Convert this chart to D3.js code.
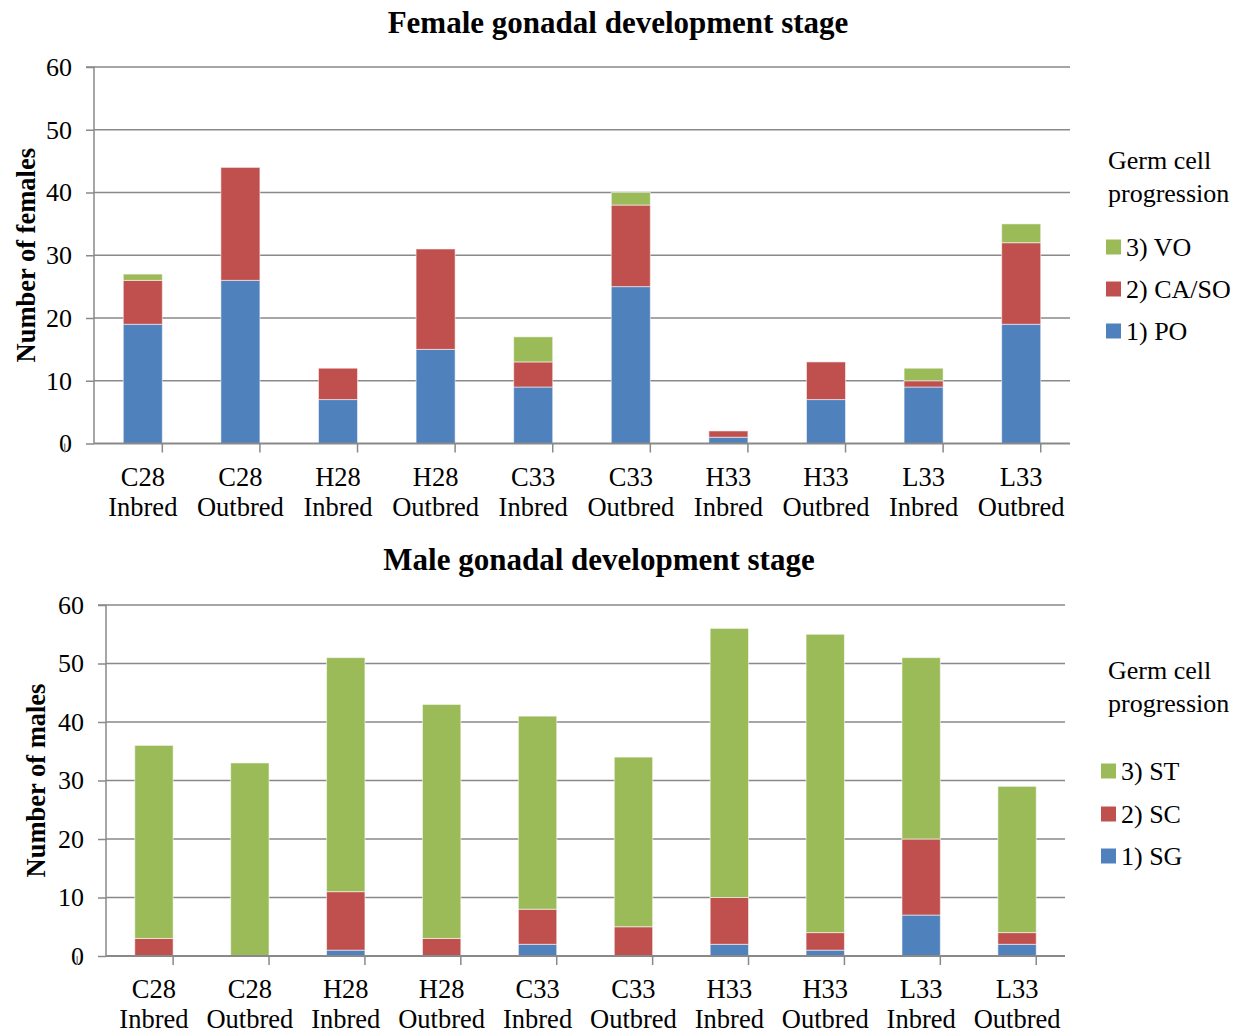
<!DOCTYPE html>
<html>
<head>
<meta charset="utf-8">
<script src="https://cdn.jsdelivr.net/npm/d3@7"></script>
<style>
  html, body { margin: 0; padding: 0; background: #fff; }
  svg { display: block; font-family: "Liberation Serif", "Times New Roman", serif; }
</style>
</head>
<body>
<svg id="chart" width="1237" height="1033"></svg>
<script>
// Groups (two-line category labels)
const groupLines = [
  ["C28", "Inbred"], ["C28", "Outbred"], ["H28", "Inbred"], ["H28", "Outbred"],
  ["C33", "Inbred"], ["C33", "Outbred"], ["H33", "Inbred"], ["H33", "Outbred"],
  ["L33", "Inbred"], ["L33", "Outbred"]
];
const groups = groupLines.map(d => d.join(" "));

// Female germ cell stages (stack order bottom -> top)
const femaleStages = ["1) PO", "2) CA/SO", "3) VO"];
const femalePO   = [19, 26, 7, 15, 9, 25, 1, 7, 9, 19];
const femaleCASO = [7, 18, 5, 16, 4, 13, 1, 6, 1, 13];
const femaleVO   = [1, 0, 0, 0, 4, 2, 0, 0, 2, 3];

// Male germ cell stages (stack order bottom -> top)
const maleStages = ["1) SG", "2) SC", "3) ST"];
const maleSG = [0, 0, 1, 0, 2, 0, 2, 1, 7, 2];
const maleSC = [3, 0, 10, 3, 6, 5, 8, 3, 13, 2];
const maleST = [33, 33, 40, 40, 33, 29, 46, 51, 31, 25];

const yTicks = [0, 10, 20, 30, 40, 50, 60];
const stageColors = ["#4F81BD", "#C0504D", "#9BBB59"];

const svg = d3.select("#chart");
const gridColor = "#898989";
const serif = "Liberation Serif, Times New Roman, serif";

function drawPanel(cfg) {
  const { title, titleX, titleY, yTitle, yTitleX, x0, x1, y0, y1, stages, series,
          legendX, legendTextX, legendTitleY, legendItemY } = cfg;

  const rows = groups.map((g, i) => {
    const r = { group: g };
    stages.forEach((s, k) => { r[s] = series[k][i]; });
    return r;
  });
  const stacked = d3.stack().keys(stages)(rows);

  const x = d3.scaleBand().domain(groups).range([x0, x1])
    .paddingInner(0.6).paddingOuter(0.3);
  const y = d3.scaleLinear().domain([0, 60]).range([y0, y1]);
  const step = x.step();
  const left = x.range()[0];

  const g = svg.append("g");

  // horizontal gridlines
  g.selectAll(".grid").data(yTicks.filter(t => t > 0)).join("line")
    .attr("x1", x0).attr("x2", x1)
    .attr("y1", d => y(d)).attr("y2", d => y(d))
    .attr("stroke", gridColor).attr("stroke-width", 1.5);

  // y axis
  const yAxis = d3.axisLeft(y).tickValues(yTicks).tickSize(8).tickPadding(14);
  const ya = g.append("g").attr("transform", `translate(${x0},0)`).call(yAxis)
    .attr("font-family", serif).attr("font-size", 26);
  ya.select(".domain").attr("stroke", gridColor).attr("stroke-width", 1.5)
    .attr("d", `M-8,${y(60)}H0V${y(0)}`);
  ya.selectAll(".tick line").attr("stroke", gridColor).attr("stroke-width", 1.5);
  ya.selectAll(".tick text").attr("fill", "#000");

  // stacked bars
  g.selectAll(".layer").data(stacked).join("g")
    .attr("fill", (d, i) => stageColors[i])
    .selectAll("rect").data(d => d).join("rect")
    .attr("x", d => x(d.data.group))
    .attr("width", x.bandwidth())
    .attr("y", d => y(d[1]))
    .attr("height", d => y(d[0]) - y(d[1]))
    .attr("stroke", "rgba(255,255,255,0.55)")
    .attr("stroke-width", d => (d[1] - d[0]) > 0 ? 1 : 0);

  // x axis line and category boundary ticks
  g.append("line").attr("x1", x0).attr("x2", x1).attr("y1", y(0)).attr("y2", y(0))
    .attr("stroke", gridColor).attr("stroke-width", 2);
  g.selectAll(".xtick").data(d3.range(groups.length + 1)).join("line")
    .attr("x1", i => left - step * 0.3 + i * step)
    .attr("x2", i => left - step * 0.3 + i * step)
    .attr("y1", y(0)).attr("y2", y(0) + 9)
    .attr("stroke", gridColor).attr("stroke-width", 1.5);

  // two-line category labels
  const lbl = g.selectAll(".xlabel").data(groupLines).join("text")
    .attr("text-anchor", "middle").attr("font-size", 26.5).attr("fill", "#000")
    .attr("transform", (d, i) => `translate(${x(groups[i]) + x.bandwidth() / 2},${y(0) + 42})`);
  lbl.append("tspan").attr("x", 0).attr("y", 0).text(d => d[0]);
  lbl.append("tspan").attr("x", 0).attr("y", 30).text(d => d[1]);

  // title
  svg.append("text").attr("x", titleX).attr("y", titleY)
    .attr("text-anchor", "middle").attr("font-size", 31).attr("font-weight", "bold")
    .text(title);

  // y axis title
  svg.append("text")
    .attr("transform", `translate(${yTitleX},${(y(0) + y(60)) / 2}) rotate(-90)`)
    .attr("text-anchor", "middle").attr("font-size", 26.5).attr("font-weight", "bold")
    .text(yTitle);

  // legend
  const lg = svg.append("g");
  lg.append("text").attr("x", legendTextX).attr("y", legendTitleY).attr("font-size", 26)
    .text("Germ cell");
  lg.append("text").attr("x", legendTextX).attr("y", legendTitleY + 33).attr("font-size", 26)
    .text("progression");
  const order = [2, 1, 0];
  const items = lg.selectAll(".item").data(order).join("g")
    .attr("transform", (k, j) => `translate(${legendX},${legendItemY[j]})`);
  items.append("rect").attr("x", 0).attr("y", -7.5).attr("width", 15).attr("height", 15)
    .attr("fill", k => stageColors[k]);
  items.append("text").attr("x", 20).attr("y", 9).attr("font-size", 26)
    .text(k => stages[k]);
}

drawPanel({
  title: "Female gonadal development stage", titleX: 618, titleY: 33,
  yTitle: "Number of females", yTitleX: 35,
  x0: 94, x1: 1070, y0: 443.5, y1: 67,
  stages: femaleStages, series: [femalePO, femaleCASO, femaleVO],
  legendX: 1106, legendTextX: 1108, legendTitleY: 169,
  legendItemY: [247, 289, 331]
});

drawPanel({
  title: "Male gonadal development stage", titleX: 599, titleY: 570,
  yTitle: "Number of males", yTitleX: 45,
  x0: 106, x1: 1065, y0: 956, y1: 605,
  stages: maleStages, series: [maleSG, maleSC, maleST],
  legendX: 1101, legendTextX: 1108, legendTitleY: 679,
  legendItemY: [771, 814, 856]
});
</script>
</body>
</html>
